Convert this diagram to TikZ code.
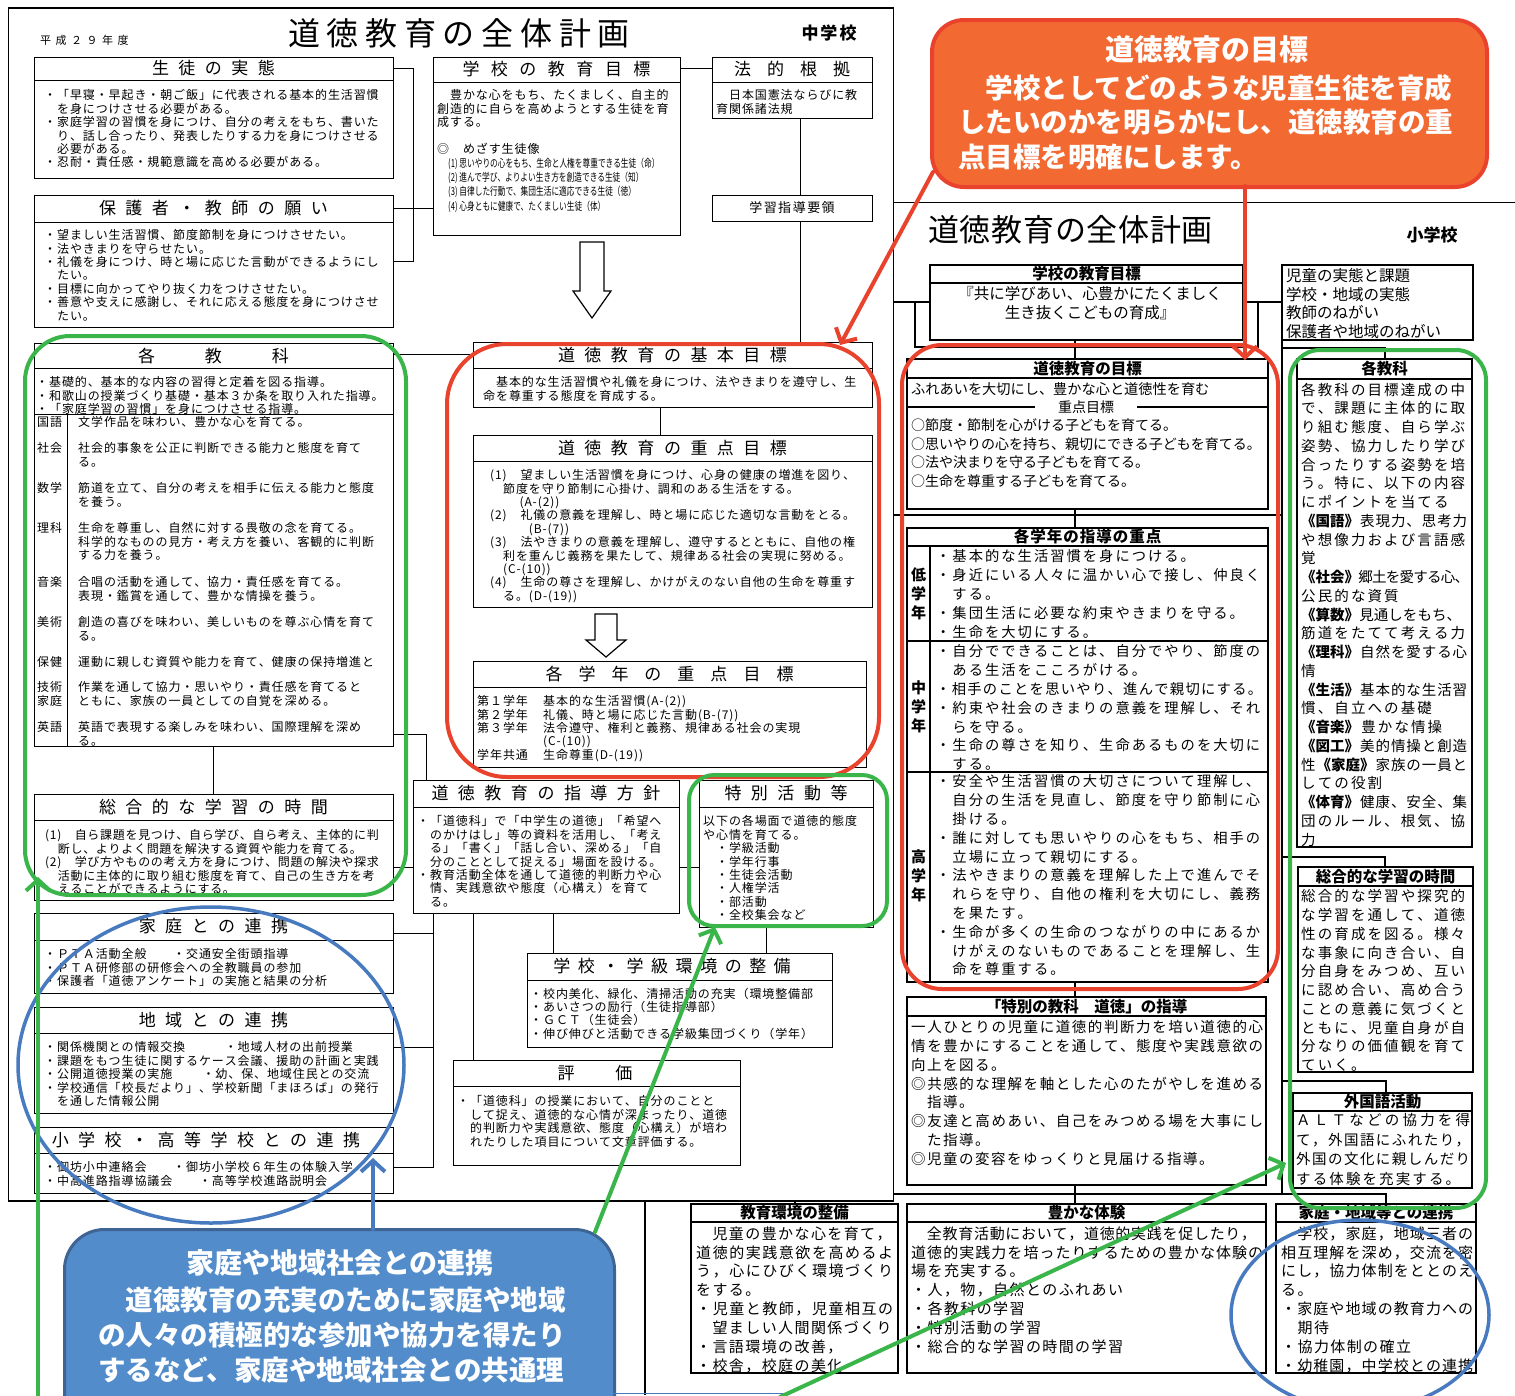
\documentclass[tikz,border=0pt]{standalone}
\usepackage{fontspec}
\usepackage{graphicx}
\setmainfont{Noto Sans CJK JP}
\usetikzlibrary{arrows.meta,shapes.geometric}
\definecolor{cgreen}{RGB}{57,181,74}
\definecolor{cred}{RGB}{234,67,45}
\definecolor{corange}{RGB}{242,106,50}
\definecolor{cblue}{RGB}{72,122,192}
\definecolor{cbluefill}{RGB}{82,140,202}
\definecolor{cblueedge}{RGB}{62,100,148}
\newskip\spskip
\def\spaced#1{\spacedA#1\relax}
\def\spacedA#1{#1\spacedB}
\def\spacedB#1{\ifx\relax#1\else\hskip\spskip#1\expandafter\spacedB\fi}
\newcommand\fl[1]{\spaced{#1}}
\newcommand\jl[2]{\makebox[#1][s]{\spskip=0pt plus 1fil minus 2pt\spaced{#2}}}
\def\Kkokugo{{\bfseries《国語》}}
\def\Kshakai{{\bfseries《社会》}}
\def\Ksansu{{\bfseries《算数》}}
\def\Krika{{\bfseries《理科》}}
\def\Kseikatsu{{\bfseries《生活》}}
\def\Kongaku{{\bfseries《音楽》}}
\def\Kzuko{{\bfseries《図工》}}
\def\Kkatei{{\bfseries《家庭》}}
\def\Ktaiiku{{\bfseries《体育》}}
\tikzset{
  bx/.style={draw, line width=0.8pt, fill=white, inner sep=0pt, outer sep=0pt, anchor=north west},
  ebx/.style={draw, line width=1.1pt, fill=white, inner sep=0pt, outer sep=0pt, anchor=north west},
  ln/.style={line width=0.8pt},
  eln/.style={line width=1.1pt},
  mt/.style={inner sep=0pt, font=\fontsize{17}{17}\selectfont, execute at begin node={\spskip=9.5pt}},
  mb/.style={inner sep=0pt, anchor=north west, align=left, font=\fontsize{12}{13.35}\selectfont, execute at begin node={\spskip=0.9pt}},
  et/.style={inner sep=0pt, font=\fontsize{15.5}{15.5}\selectfont\bfseries},
  eb/.style={inner sep=0pt, anchor=north west, align=left, font=\fontsize{14.3}{18.8}\selectfont, execute at begin node={\spskip=2pt}},
  ec/.style={inner sep=0pt, anchor=north west, align=left, font=\fontsize{14.5}{18.75}\selectfont, execute at begin node={\spskip=2.1pt}},
  ed/.style={inner sep=0pt, anchor=north west, align=left, font=\fontsize{15}{18.9}\selectfont, execute at begin node={\spskip=1.4pt}},
  ring/.style={line width=4pt, inner sep=0pt, anchor=north west},
  callarrow/.style={line width=4pt, line cap=round, -{Straight Barb[length=11pt, width=24pt]}},
  cw/.style={inner sep=0pt, text=white, font=\fontsize{27.5}{27.5}\selectfont\bfseries},
}
\newcommand\tbox[6]{%
  \node[bx, minimum width={#4-#2}, minimum height={#5-#3}] (#1) at (#2,#3) {};
  \draw[ln] (#2,#6) -- (#4,#6);}
\newcommand\ebox[6]{%
  \node[ebx, minimum width={#4-#2}, minimum height={#5-#3}] (#1) at (#2,#3) {};
  \draw[eln] (#2,#6) -- (#4,#6);}
\begin{document}
\begin{tikzpicture}[x=1pt,y=-1pt]
\useasboundingbox (0,0) rectangle (1515,1395);
\clip (0,0) rectangle (1515,1395);
\fill[white] (0,0) rectangle (1515,1395);

% ================= elementary school plan =================
\draw[line width=1.5pt] (892,202.5) -- (1515,202.5);
\draw[line width=1.5pt] (645,1200) -- (645,1395);
\node[inner sep=0, anchor=west, font=\fontsize{31}{31}\selectfont] (etitle) at (928,230) {\spskip=0.7pt\spaced{道徳教育の全体計画}};
\node[inner sep=0, font=\fontsize{17}{17}\selectfont\bfseries] (elvl) at (1432,235) {小学校};

\draw[eln] (892,302) -- (930,302);
\draw[eln] (1243,302) -- (1282,302);
\draw[eln] (915,302) -- (915,347) -- (1258,347) -- (1258,302);
\draw[eln] (1075,340) -- (1075,359);
\draw[eln] (892,515) -- (1282,515);
\draw[eln] (1075,509) -- (1075,528);
\draw[eln] (1075,982) -- (1075,997);
\draw[eln] (1282,302) -- (1282,1194);
\draw[eln] (1282,348) -- (1385,348) -- (1385,359);
\draw[eln] (1282,857) -- (1385,857) -- (1385,867);
\draw[eln] (1282,1081) -- (1386,1081) -- (1386,1093);
\draw[eln] (892,1194) -- (1386,1194) -- (1386,1204);
\draw[eln] (1075,1185) -- (1075,1204);
\draw[eln] (795,1194) -- (795,1204);

\ebox{emoku}{930}{265}{1243}{340}{283}
\node[et] (emokut) at (1086.5,274) {学校の教育目標};
\node[inner sep=0, align=center, font=\fontsize{15.5}{19.5}\selectfont] (emokub) at (1090,303) {『共に学びあい、心豊かにたくましく\\生き抜くこどもの育成』};

\node[ebx, minimum width=191, minimum height=75] (ejidou) at (1282,265) {};
\node[inner sep=0, anchor=north west, align=left, font=\fontsize{15.5}{18.7}\selectfont] (ejidoub) at (1286,268) {児童の実態と課題\\学校・地域の実態\\教師のねがい\\保護者や地域のねがい};

\ebox{edo}{907}{359}{1268}{509}{378}
\node[et] (edot) at (1087.5,368.5) {道徳教育の目標};
\node[inner sep=0, anchor=north west, font=\fontsize{14.2}{14.2}\selectfont] (edob) at (911,382.6) {ふれあいを大切にし、豊かな心と道徳性を育む};
\draw[eln] (907,407) -- (1035,407);
\draw[eln] (1137,407) -- (1268,407);
\node[inner sep=0, font=\fontsize{14}{14}\selectfont] (ejuten) at (1086,407) {重点目標};
\node[inner sep=0, anchor=north west, align=left, font=\fontsize{14}{18.6}\selectfont] (ejutenb) at (911,418.7) {○節度・節制を心がける子どもを育てる。\\○思いやりの心を持ち、親切にできる子どもを育てる。\\○法や決まりを守る子どもを育てる。\\○生命を尊重する子どもを育てる。};

\ebox{egak}{907}{528}{1268}{982}{546}
\node[et] (egakt) at (1087.5,537) {\spskip=1pt\spaced{各学年の指導の重点}};
\draw[eln] (930,546) -- (930,982);
\draw[eln] (907,641) -- (1268,641);
\draw[eln] (907,772) -- (1268,772);
\node[inner sep=0, align=center, font=\fontsize{15}{19}\selectfont\bfseries] (elow) at (918.5,593.5) {低\\学\\年};
\node[inner sep=0, align=center, font=\fontsize{15}{19}\selectfont\bfseries] (emid) at (918.5,706.5) {中\\学\\年};
\node[inner sep=0, align=center, font=\fontsize{15}{19}\selectfont\bfseries] (ehigh) at (918.5,876) {高\\学\\年};
\node[eb] (elowb) at (936,549.6) {\fl{・基本的な生活習慣を身につける。}\\
\fl{・身近にいる人々に温かい心で接し、仲良く}\\
\fl{　する。}\\
\fl{・集団生活に必要な約束やきまりを守る。}\\
\fl{・生命を大切にする。}};
\node[eb] (emidb) at (936,644.6) {\fl{・自分でできることは、自分でやり、節度の}\\
\fl{　ある生活をこころがける。}\\
\jl{326pt}{・相手のことを思いやり、進んで親切にする。}\\
\fl{・約束や社会のきまりの意義を理解し、それ}\\
\fl{　らを守る。}\\
\fl{・生命の尊さを知り、生命あるものを大切に}\\
\fl{　する。}};
\node[eb] (ehighb) at (936,774.6) {\fl{・安全や生活習慣の大切さについて理解し、}\\
\fl{　自分の生活を見直し、節度を守り節制に心}\\
\fl{　掛ける。}\\
\fl{・誰に対しても思いやりの心をもち、相手の}\\
\fl{　立場に立って親切にする。}\\
\fl{・法やきまりの意義を理解した上で進んでそ}\\
\fl{　れらを守り、自他の権利を大切にし、義務}\\
\fl{　を果たす。}\\
\fl{・生命が多くの生命のつながりの中にあるか}\\
\fl{　けがえのないものであることを理解し、生}\\
\fl{　命を尊重する。}};

\ebox{etok}{907}{997}{1266}{1185}{1016}
\node[et] (etokt) at (1086.5,1006.5) {「特別の教科　道徳」の指導};
\node[ec, execute at begin node={\spskip=1.5pt}] (etokb) at (911,1020.5) {\jl{352pt}{一人ひとりの児童に道徳的判断力を培い道徳的心}\\
\jl{352pt}{情を豊かにすることを通して、態度や実践意欲の}\\
\fl{向上を図る。}\\
\jl{352pt}{◎共感的な理解を軸とした心のたがやしを進める}\\
\fl{　指導。}\\
\jl{352pt}{◎友達と高めあい、自己をみつめる場を大事にし}\\
\fl{　た指導。}\\
\fl{◎児童の変容をゆっくりと見届ける指導。}};

\ebox{ekyo}{1297}{359}{1472}{847}{379}
\node[et] (ekyot) at (1384.5,369) {各教科};
\node[ec] (ekyob) at (1301,382.5) {\fl{各教科の目標達成の中}\\
\fl{で、課題に主体的に取}\\
\fl{り組む態度、自ら学ぶ}\\
\fl{姿勢、協力したり学び}\\
\fl{合ったりする姿勢を培}\\
\fl{う。特に、以下の内容}\\
\fl{にポイントを当てる}\\
\jl{166pt}{\Kkokugo 表現力、思考力}\\
\fl{や想像力および言語感}\\
\fl{覚}\\
\jl{168pt}{\Kshakai 郷土を愛する心、}\\
\fl{公民的な資質}\\
\jl{160pt}{\Ksansu 見通しをもち、}\\
\fl{筋道をたてて考える力}\\
\jl{166pt}{\Krika 自然を愛する心}\\
\fl{情}\\
\jl{166pt}{\Kseikatsu 基本的な生活習}\\
\fl{慣、自立への基礎}\\
\fl{\Kongaku 豊かな情操}\\
\jl{166pt}{\Kzuko 美的情操と創造}\\
\jl{166pt}{性\Kkatei 家族の一員と}\\
\fl{しての役割}\\
\jl{166pt}{\Ktaiiku 健康、安全、集}\\
\fl{団のルール、根気、協}\\
\fl{力}};

\ebox{esogo}{1298}{867}{1473}{1072}{886}
\node[et] (esogot) at (1385.5,876.5) {総合的な学習の時間};
\node[ec] (esogob) at (1301,889.5) {\fl{総合的な学習や探究的}\\
\fl{な学習を通して、道徳}\\
\fl{性の育成を図る。様々}\\
\fl{な事象に向き合い、自}\\
\fl{分自身をみつめ、互い}\\
\fl{に認め合い、高め合う}\\
\fl{ことの意義に気づくと}\\
\fl{ともに、児童自身が自}\\
\fl{分なりの価値観を育て}\\
\fl{ていく。}};

\ebox{egai}{1293}{1093}{1472}{1188}{1111}
\node[et] (egait) at (1382.5,1102) {外国語活動};
\node[ec, font=\fontsize{14.5}{19.4}\selectfont] (egaib) at (1296,1113.5) {\jl{174pt}{ＡＬＴなどの協力を得}\\
\jl{174pt}{て，外国語にふれたり，}\\
\jl{174pt}{外国の文化に親しんだり}\\
\fl{する体験を充実する。}};

\ebox{ekan}{691}{1204}{898}{1373}{1222}
\node[et] (ekant) at (794.5,1213) {教育環境の整備};
\node[ed] (ekanb) at (696,1226.3) {\fl{　児童の豊かな心を育て，}\\
\jl{197pt}{道徳的実践意欲を高めるよ}\\
\jl{197pt}{う，心にひびく環境づくり}\\
\fl{をする。}\\
\jl{197pt}{・児童と教師，児童相互の}\\
\fl{　望ましい人間関係づくり}\\
\fl{・言語環境の改善，}\\
\fl{・校舎，校庭の美化}};

\ebox{etai}{907}{1204}{1266}{1373}{1222}
\node[et] (etait) at (1086.5,1213) {豊かな体験};
\node[ed] (etaib) at (911,1226.3) {\jl{345pt}{　全教育活動において，道徳的実践を促したり，}\\
\jl{352pt}{道徳的実践力を培ったりするための豊かな体験の}\\
\fl{場を充実する。}\\
\fl{・人，物，自然とのふれあい}\\
\fl{・各教科の学習}\\
\fl{・特別活動の学習}\\
\fl{・総合的な学習の時間の学習}};

\ebox{eren}{1276}{1204}{1476}{1373}{1222}
\node[et] (erent) at (1376,1213) {家庭・地域等との連携};
\node[ed] (erenb) at (1281,1226.3) {\jl{192pt}{　学校，家庭，地域三者の}\\
\jl{192pt}{相互理解を深め，交流を密}\\
\jl{192pt}{にし，協力体制をととのえ}\\
\fl{る。}\\
\jl{192pt}{・家庭や地域の教育力への}\\
\fl{　期待}\\
\fl{・協力体制の確立}\\
\jl{192pt}{・幼稚園，中学校との連携}};

% ================= middle school plan =================
\node[draw, line width=1.8pt, fill=white, minimum width=885, minimum height=1193, anchor=north west, inner sep=0] (msdoc) at (7.5,7) {};
\node[inner sep=0, font=\fontsize{32}{32}\selectfont] (mtitle) at (459,33) {\spskip=6.7pt\spaced{道徳教育の全体計画}};
\node[inner sep=0, anchor=west, font=\fontsize{11}{11}\selectfont] (myear) at (40,40) {\spskip=4.5pt\spaced{平成２９年度}};
\node[inner sep=0, font=\fontsize{17}{17}\selectfont\bfseries] (mlvl) at (829,33) {\spskip=2pt\spaced{中学校}};

% connectors
\draw[ln] (393,68.5) -- (413,68.5) -- (413,261) -- (393,261);
\draw[ln] (393,208.5) -- (433,208.5);
\draw[ln] (680,68.5) -- (712,68.5);
\draw[ln] (800,118) -- (800,195);
\draw[ln] (800,221) -- (800,342);
\draw[ln] (393,354) -- (473,354);
\draw[ln] (660,407) -- (660,435);
\draw[ln] (213.5,746) -- (213.5,794);
\draw[ln] (393,734) -- (426,734) -- (426,780);
\draw[ln] (393,867) -- (413,867);
\draw[ln] (679,867) -- (699,867);
\draw[ln] (433,913) -- (433,1167) -- (393,1167);
\draw[ln] (393,933) -- (433,933);
\draw[ln] (393,1047) -- (433,1047);
\draw[ln] (473,913) -- (473,1060);
\draw[ln] (553,913) -- (553,953);
\draw[ln] (766,927) -- (766,953);

\tbox{jittai}{34}{57}{393}{178}{80}
\node[mt] (jittait) at (213.5,68.5) {\spaced{生徒の実態}};
\node[mb] (jittaib) at (44,89.6) {\fl{・「早寝・早起き・朝ご飯」に代表される基本的生活習慣}\\
\fl{　を身につけさせる必要がある。}\\
\fl{・家庭学習の習慣を身につけ、自分の考えをもち、書いた}\\
\fl{　り、話し合ったり、発表したりする力を身につけさせる}\\
\fl{　必要がある。}\\
\fl{・忍耐・責任感・規範意識を高める必要がある。}};

\tbox{gmoku}{433}{57}{680}{235}{82}
\node[mt] (gmokut) at (556.5,69.5) {\spskip=11.5pt\spaced{学校の教育目標}};
\node[mb] (gmokub) at (437,89.6) {\fl{　豊かな心をもち、たくましく、自主的}\\
\fl{創造的に自らを高めようとする生徒を育}\\
\fl{成する。}};
\node[mb] (gmokuc) at (437,142.6) {\fl{◎　めざす生徒像}};
\node[inner sep=0, anchor=north west] (gm1) at (448,157.5) {\scalebox{0.7}[1]{\fontsize{11}{11}\selectfont (1) 思いやりの心をもち、生命と人権を尊重できる生徒（命）}};
\node[inner sep=0, anchor=north west] (gm2) at (448,171.5) {\scalebox{0.7}[1]{\fontsize{11}{11}\selectfont (2) 進んで学び、よりよい生き方を創造できる生徒（知）}};
\node[inner sep=0, anchor=north west] (gm3) at (448,186) {\scalebox{0.7}[1]{\fontsize{11}{11}\selectfont (3) 自律した行動で、集団生活に適応できる生徒（徳）}};
\node[inner sep=0, anchor=north west] (gm4) at (448,200.5) {\scalebox{0.7}[1]{\fontsize{11}{11}\selectfont (4) 心身ともに健康で、たくましい生徒（体）}};

\tbox{houki}{712}{57}{872}{118}{82}
\node[mt] (houkit) at (792,69.5) {\spskip=16pt\spaced{法的根拠}};
\node[mb] (houkib) at (716,89.6) {\fl{　日本国憲法ならびに教}\\\fl{育関係諸法規}};

\node[bx, minimum width=160, minimum height=26] (yoryo) at (712,195) {};
\node[inner sep=0, font=\fontsize{13}{13}\selectfont] (yoryot) at (792,208) {\spskip=1.5pt\spaced{学習指導要領}};

\tbox{negai}{34}{195}{393}{327}{222}
\node[mt] (negait) at (213.5,208.5) {\spaced{保護者・教師の願い}};
\node[mb] (negaib) at (44,229.6) {\fl{・望ましい生活習慣、節度節制を身につけさせたい。}\\
\fl{・法やきまりを守らせたい。}\\
\fl{・礼儀を身につけ、時と場に応じた言動ができるようにし}\\
\fl{　たい。}\\
\fl{・目標に向かってやり抜く力をつけさせたい。}\\
\fl{・善意や支えに感謝し、それに応える態度を身につけさせ}\\
\fl{　たい。}};

\tbox{kyoka}{34}{343}{393}{746}{368}
\node[mt] (kyokat) at (213.5,355.5) {\spskip=16.5pt\spaced{各　教　科}};
\node[mb] (kyokab) at (36,376.6) {\fl{・基礎的、基本的な内容の習得と定着を図る指導。}\\
\fl{・和歌山の授業づくり基礎・基本３か条を取り入れた指導。}\\
\fl{・「家庭学習の習慣」を身につけさせる指導。}};
\draw[ln] (34,414) -- (393,414);
\draw[ln] (67,414) -- (67,746);
\node[mb] (s1l) at (37,416.6) {\fl{国語}};
\node[mb] (s1t) at (78,416.6) {\fl{文学作品を味わい、豊かな心を育てる。}};
\node[mb] (s2l) at (37,442.6) {\fl{社会}};
\node[mb] (s2t) at (78,442.6) {\fl{社会的事象を公正に判断できる能力と態度を育て}\\\fl{る。}};
\node[mb] (s3l) at (37,482.6) {\fl{数学}};
\node[mb] (s3t) at (78,482.6) {\fl{筋道を立て、自分の考えを相手に伝える能力と態度}\\\fl{を養う。}};
\node[mb] (s4l) at (37,522.6) {\fl{理科}};
\node[mb] (s4t) at (78,522.6) {\fl{生命を尊重し、自然に対する畏敬の念を育てる。}\\\fl{科学的なものの見方・考え方を養い、客観的に判断}\\\fl{する力を養う。}};
\node[mb] (s5l) at (37,576.6) {\fl{音楽}};
\node[mb] (s5t) at (78,576.6) {\fl{合唱の活動を通して、協力・責任感を育てる。}\\\fl{表現・鑑賞を通して、豊かな情操を養う。}};
\node[mb] (s6l) at (37,616.6) {\fl{美術}};
\node[mb] (s6t) at (78,616.6) {\fl{創造の喜びを味わい、美しいものを尊ぶ心情を育て}\\\fl{る。}};
\node[mb] (s7l) at (37,656.6) {\fl{保健}};
\node[mb] (s7t) at (78,656.6) {\fl{運動に親しむ資質や能力を育て、健康の保持増進と}};
\node[mb] (s8l) at (37,681.6) {\fl{技術}\\\fl{家庭}};
\node[mb] (s8t) at (78,681.6) {\fl{作業を通して協力・思いやり・責任感を育てると}\\\fl{ともに、家族の一員としての自覚を深める。}};
\node[mb] (s9l) at (37,721.6) {\fl{英語}};
\node[mb] (s9t) at (78,721.6) {\fl{英語で表現する楽しみを味わい、国際理解を深め}\\\fl{る。}};

\tbox{sogo}{34}{794}{393}{900}{820}
\node[mt] (sogot) at (213.5,807) {\spaced{総合的な学習の時間}};
\node[mb, execute at begin node={\spskip=0.7pt}] (sogob) at (45,829.6) {\fl{(1)　自ら課題を見つけ、自ら学び、自ら考え、主体的に判}\\
\fl{　断し、よりよく問題を解決する資質や能力を育てる。}\\
\fl{(2)　学び方やものの考え方を身につけ、問題の解決や探求}\\
\fl{　活動に主体的に取り組む態度を育て、自己の生き方を考}\\
\fl{　えることができるようにする。}};

\tbox{katei}{34}{913}{393}{993}{940}
\node[mt] (kateit) at (213.5,926.5) {\spaced{家庭との連携}};
\node[mb] (kateib) at (44,948.6) {\fl{・ＰＴＡ活動全般　　・交通安全街頭指導}\\
\fl{・ＰＴＡ研修部の研修会への全教職員の参加}\\
\fl{・保護者「道徳アンケート」の実施と結果の分析}};

\tbox{chiiki}{34}{1007}{393}{1113}{1033}
\node[mt] (chiikit) at (213.5,1020) {\spaced{地域との連携}};
\node[mb] (chiikib) at (44,1041.6) {\fl{・関係機関との情報交換　　　・地域人材の出前授業}\\
\fl{・課題をもつ生徒に関するケース会議、援助の計画と実践}\\
\fl{・公開道徳授業の実施　　~・幼、保、地域住民との交流}\\
\fl{・学校通信「校長だより」、学校新聞「まほろば」の発行}\\
\fl{　を通した情報公開}};

\tbox{shoko}{34}{1127}{393}{1193}{1153}
\node[mt] (shokot) at (206,1140) {\spaced{小学校・高等学校との連携}};
\node[mb] (shokob) at (44,1161.6) {\fl{・御坊小中連絡会　　・御坊小学校６年生の体験入学}\\
\fl{・中高進路指導協議会　　・高等学校進路説明会}};

\tbox{kihon}{473}{342}{872}{407}{368}
\node[mt] (kihont) at (672.5,355) {\spaced{道徳教育の基本目標}};
\node[mb] (kihonb) at (483,376.6) {\fl{　基本的な生活習慣や礼儀を身につけ、法やきまりを遵守し、生}\\
\fl{命を尊重する態度を育成する。}};

\tbox{juten}{473}{435}{872}{607}{461}
\node[mt] (jutent) at (672.5,448) {\spaced{道徳教育の重点目標}};
\node[mb] (jutenb) at (490,469.6) {\fl{(1)　望ましい生活習慣を身につけ、心身の健康の増進を図り、}\\
\fl{　節度を守り節制に心掛け、調和のある生活をする。}\\
\fl{　　~(A-(2))}\\
\fl{(2)　礼儀の意義を理解し、時と場に応じた適切な言動をとる。}\\
\fl{　　　(B-(7))}\\
\fl{(3)　法やきまりの意義を理解し、遵守するとともに、自他の権}\\
\fl{　利を重んじ義務を果たして、規律ある社会の実現に努める。}\\
\fl{　(C-(10))}\\
\fl{(4)　生命の尊さを理解し、かけがえのない自他の生命を尊重す}\\
\fl{　る。(D-(19))}};

\draw[line width=1.2pt, fill=white] (580,242) -- (604,242) -- (604,291) -- (611,291) -- (592,318) -- (573,291) -- (580,291) -- cycle;
\draw[line width=1.2pt, fill=white] (595,614) -- (617,614) -- (617,640) -- (626,640) -- (606,657) -- (586,640) -- (595,640) -- cycle;

\tbox{gakunen}{473}{661}{866}{767}{687}
\node[mt] (gakunent) at (669.5,674) {\spskip=16pt\spaced{各学年の重点目標}};
\node[mb] (gakunenl) at (477,695.6) {\fl{第１学年}\\\fl{第２学年}\\\fl{第３学年}\\\fl{　}\\\fl{学年共通}};
\node[mb] (gakunenb) at (543,695.6) {\fl{基本的な生活習慣(A-(2))}\\
\fl{礼儀、時と場に応じた言動(B-(7))}\\
\fl{法令遵守、権利と義務、規律ある社会の実現}\\
\fl{(C-(10))}\\
\fl{生命尊重(D-(19))}};

\tbox{hoshin}{413}{780}{679}{913}{807}
\node[mt] (hoshint) at (546,793.5) {\spaced{道徳教育の指導方針}};
\node[mb] (hoshinb) at (417,815.6) {\fl{・「道徳科」で「中学生の道徳」「希望へ}\\
\fl{　のかけはし」等の資料を活用し、「考え}\\
\fl{　る」「書く」「話し合い、深める」「自}\\
\fl{　分のこととして捉える」場面を設ける。}\\
\fl{・教育活動全体を通して道徳的判断力や心}\\
\fl{　情、実践意欲や態度（心構え）を育て}\\
\fl{　る。}};

\tbox{tokkatsu}{699}{780}{873}{927}{807}
\node[mt] (tokkatsut) at (786,793.5) {\spaced{特別活動等}};
\node[mb] (tokkatsub) at (703,815.6) {\fl{以下の各場面で道徳的態度}\\
\fl{や心情を育てる。}\\
\fl{　・学級活動}\\
\fl{　・学年行事}\\
\fl{　・生徒会活動}\\
\fl{　・人権学活}\\
\fl{　・部活動}\\
\fl{　・全校集会など}};

\tbox{kankyo}{527}{953}{832}{1047}{980}
\node[mt] (kankyot) at (672,966.5) {\spskip=7.5pt\spaced{学校・学級環境の整備}};
\node[mb] (kankyob) at (530,987.6) {\fl{・校内美化、緑化、清掃活動の充実（環境整備部}\\
\fl{・あいさつの励行（生徒指導部）}\\
\fl{・ＧＣＴ（生徒会）}\\
\fl{・伸び伸びと活動できる学級集団づくり（学年）}};

\tbox{hyoka}{453}{1060}{740}{1165}{1086}
\node[mt] (hyokat) at (595,1073) {\spskip=12pt\spaced{評　価}};
\node[mb] (hyokab) at (457,1095.6) {\fl{・「道徳科」の授業において、自分のことと}\\
\fl{　して捉え、道徳的な心情が深まったり、道徳}\\
\fl{　的判断力や実践意欲、態度（心構え）が培わ}\\
\fl{　れたりした項目について文章評価する。}};

% ================= call-outs =================
\node[draw=cgreen, ring, rounded corners=45pt, minimum width=381, minimum height=559] (gring1) at (23,334) {};
\node[draw=cred, ring, rounded corners=60pt, minimum width=432, minimum height=433] (rring1) at (445,342) {};
\node[draw=cgreen, ring, rounded corners=25pt, minimum width=198, minimum height=151] (gring2) at (687,773) {};
\node[draw=cblue, line width=3.5pt, ellipse, minimum width=386, minimum height=316, inner sep=0pt] (bring1) at (211,1065) {};
\node[draw=cred, ring, rounded corners=40pt, minimum width=376, minimum height=644] (rring2) at (900,343) {};
\node[draw=cgreen, ring, rounded corners=30pt, minimum width=196, minimum height=858] (gring3) at (1288,348) {};
\node[draw=cblue, line width=3.5pt, ellipse, minimum width=258, minimum height=190, inner sep=0pt] (bring2) at (1360,1315) {};

\node[fill=cbluefill, draw=cblueedge, line width=3pt, rounded corners=40pt, minimum width=550, minimum height=220, anchor=north west, inner sep=0] (bcall) at (63,1228) {};
\node[cw, font=\fontsize{28}{28}\selectfont\bfseries] (bcallt) at (340,1263) {家庭や地域社会との連携};
\node[cw, anchor=west] (bcall1) at (98,1300) {　道徳教育の充実のために家庭や地域};
\node[cw, anchor=west] (bcall2) at (98,1335) {の人々の積極的な参加や協力を得たり};
\node[cw, anchor=west] (bcall3) at (98,1370) {するなど、家庭や地域社会との共通理};
\draw[cblue, line width=1pt] (613,1393) -- (790,1393);

\coordinate (bA) at (373,1229);
\coordinate (bB) at (373,1158);
\draw[callarrow, cblue] (bA) -- (bB);
\coordinate (gA) at (38,1400);
\coordinate (gB) at (38,877);
\draw[callarrow, cgreen] (gA) -- (gB);
\coordinate (gC) at (595,1232);
\coordinate (gD) at (715,927);
\draw[callarrow, cgreen] (gC) -- (gD);
\coordinate (gE) at (780,1397);
\coordinate (gF) at (1286,1163);
\draw[callarrow, cgreen] (gE) -- (gF);

\node[fill=corange, draw=cred, line width=4pt, rounded corners=32pt, minimum width=555, minimum height=167, anchor=north west, inner sep=0] (ocall) at (930,18) {};
\node[cw, font=\fontsize{29}{29}\selectfont\bfseries] (ocallt) at (1207,50) {道徳教育の目標};
\node[cw, anchor=west] (ocall1) at (958,88) {　学校としてどのような児童生徒を育成};
\node[cw, anchor=west] (ocall2) at (958,122) {したいのかを明らかにし、道徳教育の重};
\node[cw, anchor=west] (ocall3) at (958,157) {点目標を明確にします。};
\coordinate (rA) at (933,172);
\coordinate (rB) at (840,345);
\draw[callarrow, cred] (rA) -- (rB);
\coordinate (rC) at (1245,186);
\coordinate (rD) at (1245,360);
\draw[callarrow, cred] (rC) -- (rD);
\end{tikzpicture}
\end{document}
